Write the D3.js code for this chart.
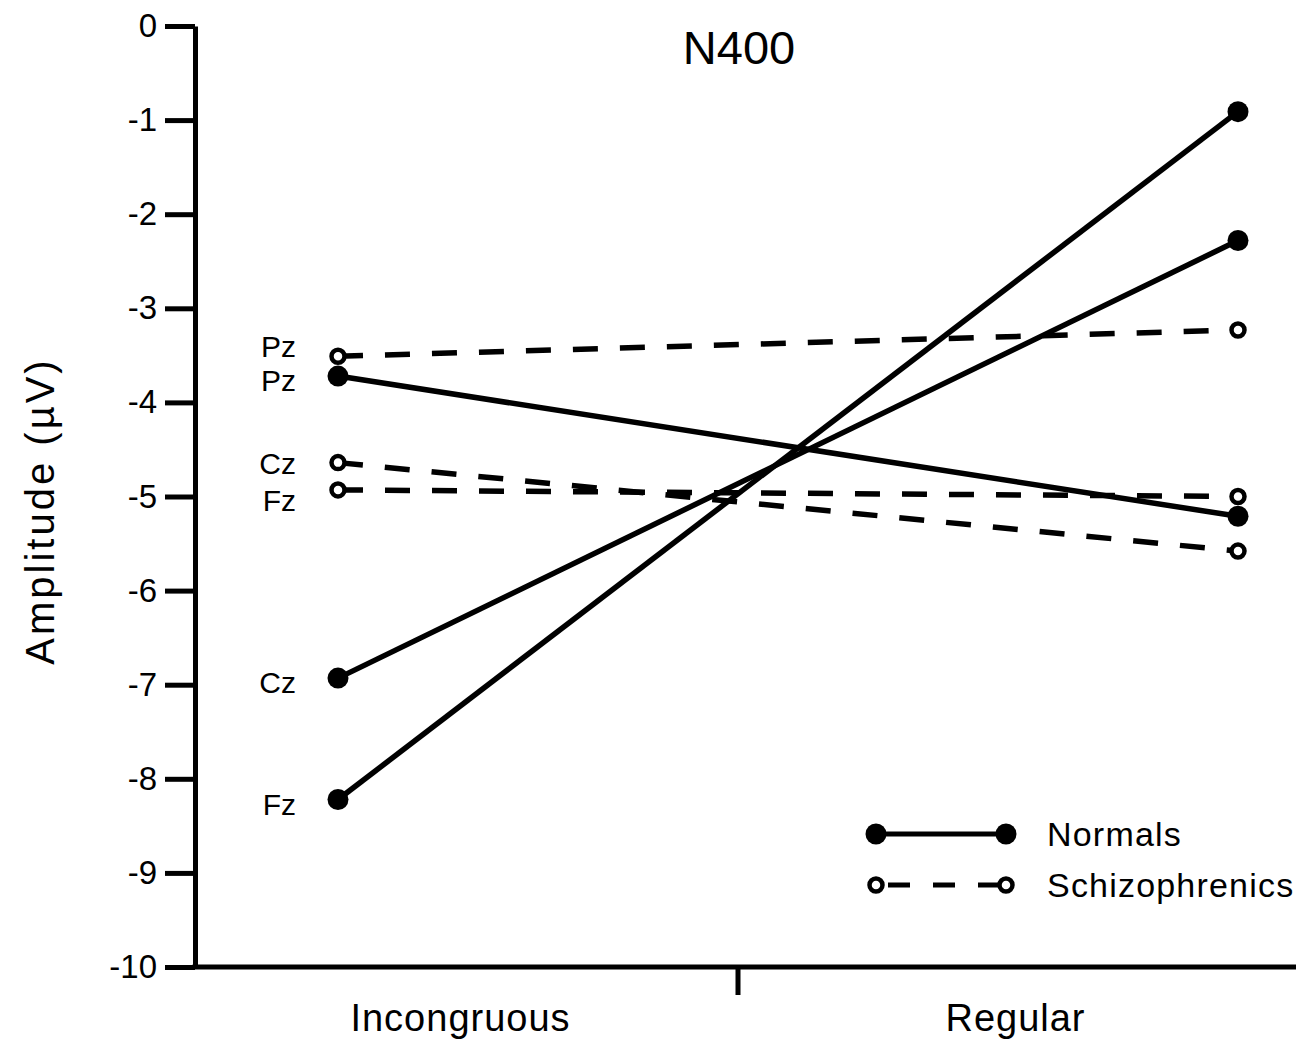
<!DOCTYPE html>
<html>
<head>
<meta charset="utf-8">
<script src="https://cdn.jsdelivr.net/npm/d3@7"></script>
<style>
  body { margin: 0; background: #fff; }
  svg text { font-family: "Liberation Sans", Arial, Helvetica, sans-serif; fill: #000; }
</style>
</head>
<body>
<svg></svg>
<script>
// data
const conditions = ["Incongruous", "Regular"];
const sites = ["Pz", "Cz", "Fz"];
const normals = [[-3.72, -5.21], [-6.93, -2.28], [-8.22, -0.91]];
const schizophrenics = [[-3.51, -3.23], [-4.64, -5.58], [-4.93, -5.0]];
const yTicks = [0, -1, -2, -3, -4, -5, -6, -7, -8, -9, -10];

const width = 1296;
const height = 1048;

const svg = d3.select("svg").attr("width", width).attr("height", height);

// scales
const yScale = d3.scaleLinear().domain([0, -10]).range([26, 967]);
const xPoint = d3.scalePoint().domain(conditions).range([338, 1238]);
const xBand = d3.scaleBand().domain(conditions).range([183, 1293]);
const axisX = 195;

// y axis (plain hyphen for minus, like the original)
const yAxisG = svg.append("g")
  .attr("transform", `translate(${axisX},0)`)
  .call(d3.axisLeft(yScale)
    .tickValues(yTicks)
    .tickFormat((d) => String(d))
    .tickSize(30)
    .tickSizeOuter(0)
    .tickPadding(8));
yAxisG.selectAll("line, path").attr("stroke", "#000").attr("stroke-width", 5);
yAxisG.selectAll("text").attr("font-size", 33).attr("font-family", "Liberation Sans, Arial, sans-serif");

// x axis: line, divider tick, category labels
svg.append("line")
  .attr("x1", axisX - 2.5).attr("x2", width)
  .attr("y1", yScale(-10)).attr("y2", yScale(-10))
  .attr("stroke", "#000").attr("stroke-width", 5);

const divider = xBand(conditions[1]);
svg.append("line")
  .attr("x1", divider).attr("x2", divider)
  .attr("y1", yScale(-10)).attr("y2", yScale(-10) + 28)
  .attr("stroke", "#000").attr("stroke-width", 5);

svg.selectAll(".cat")
  .data(conditions)
  .enter()
  .append("text")
  .attr("class", "cat")
  .attr("x", (d) => xBand(d) + xBand.bandwidth() / 2)
  .attr("y", 1031)
  .attr("text-anchor", "middle")
  .attr("font-size", 38)
  .attr("letter-spacing", 1)
  .text((d) => d);

// y label
svg.append("text")
  .attr("transform", `translate(54,511) rotate(-90)`)
  .attr("text-anchor", "middle")
  .attr("font-size", 40)
  .attr("letter-spacing", 3)
  .text("Amplitude (\u00b5V)");

// title
svg.append("text")
  .attr("x", 739).attr("y", 64)
  .attr("text-anchor", "middle")
  .attr("font-size", 47)
  .text("N400");

// lines and markers
const line = d3.line()
  .x((d, i) => xPoint(conditions[i]))
  .y((d) => yScale(d));

const groups = [
  { name: "Normals", values: normals, dash: null, filled: true },
  { name: "Schizophrenics", values: schizophrenics, dash: "25,22", filled: false }
];

groups.forEach((grp) => {
  const g = svg.append("g");
  g.selectAll("path")
    .data(grp.values)
    .enter()
    .append("path")
    .attr("d", line)
    .attr("fill", "none")
    .attr("stroke", "#000")
    .attr("stroke-width", 5.5)
    .attr("stroke-dasharray", grp.dash);

  grp.values.forEach((vals) => {
    g.selectAll(null)
      .data(vals)
      .enter()
      .append("circle")
      .attr("cx", (d, i) => xPoint(conditions[i]))
      .attr("cy", (d) => yScale(d))
      .attr("r", grp.filled ? 10.5 : 6.5)
      .attr("fill", grp.filled ? "#000" : "#fff")
      .attr("stroke", "#000")
      .attr("stroke-width", grp.filled ? 0 : 4.5);
  });
});

// site labels next to the Incongruous points
const labelShift = { "Schizophrenics-Pz": 1, "Schizophrenics-Cz": 11, "Schizophrenics-Fz": 21 };
groups.forEach((grp) => {
  grp.values.forEach((vals, k) => {
    const key = `${grp.name}-${sites[k]}`;
    const dy = labelShift[key] !== undefined ? labelShift[key] : 15;
    svg.append("text")
      .attr("x", 296)
      .attr("y", yScale(vals[0]) + dy)
      .attr("text-anchor", "end")
      .attr("font-size", 30)
      .text(sites[k]);
  });
});

// legend
const legend = svg.append("g");
groups.forEach((grp, i) => {
  const y = 834 + i * 51;
  legend.append("line")
    .attr("x1", 876).attr("x2", 1006)
    .attr("y1", y).attr("y2", y)
    .attr("stroke", "#000").attr("stroke-width", 5)
    .attr("stroke-dasharray", grp.filled ? null : "0,12,22,23,22,23,12");
  [876, 1006].forEach((x) => {
    legend.append("circle")
      .attr("cx", x).attr("cy", y)
      .attr("r", grp.filled ? 10.5 : 6.5)
      .attr("fill", grp.filled ? "#000" : "#fff")
      .attr("stroke", "#000")
      .attr("stroke-width", grp.filled ? 0 : 4.5);
  });
  legend.append("text")
    .attr("x", 1047).attr("y", y + 12)
    .attr("font-size", 34)
    .attr("letter-spacing", 1.2)
    .text(grp.name);
});
</script>
</body>
</html>
